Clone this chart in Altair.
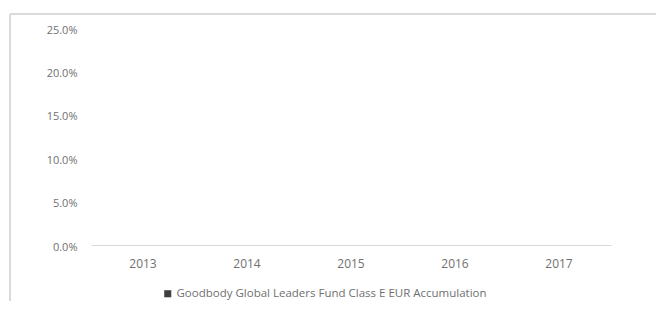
import altair as alt
import pandas as pd

years = ["2013", "2014", "2015", "2016", "2017"]
series_name = "Goodbody Global Leaders Fund Class E EUR Accumulation"
returns = [0.0, 0.0, 0.0, 0.0, 0.0]
y_ticks = [0.0, 0.05, 0.10, 0.15, 0.20, 0.25]

df = pd.DataFrame({"year": years, "ret": returns, "series": [series_name] * len(years)})

FONT = "Open Sans"
GRAY = "#707070"

bars = alt.Chart(df).mark_bar(size=60).encode(
    x=alt.X("year:N", sort=years, title=None,
            scale=alt.Scale(paddingInner=0.4, paddingOuter=0.2),
            axis=alt.Axis(labelAngle=0, ticks=False, domainColor="#d9d9d9",
                          labelPadding=13, labelFont=FONT, labelFontSize=12,
                          labelColor=GRAY)),
    y=alt.Y("ret:Q", title=None,
            scale=alt.Scale(domain=[0, 0.25]),
            axis=alt.Axis(values=y_ticks, format=".1%", grid=False, domain=False,
                          ticks=False, labelPadding=14, labelOffset=2, labelFont=FONT,
                          labelFontSize=11, labelColor=GRAY)),
    color=alt.Color("series:N", scale=alt.Scale(range=["#3f3f3f"]),
                    legend=alt.Legend(title=None, orient="none", legendX=71, legendY=260,
                                      symbolType="square", symbolSize=50, labelOffset=3,
                                      labelFont=FONT, labelFontSize=11.5,
                                      labelColor=GRAY, labelLimit=500)),
)

left_border = alt.Chart(df).mark_rule(color="#d9d9d9", strokeWidth=1).encode(
    x=alt.value(-81), y=alt.value(-14), y2=alt.value(300)
)
top_border = alt.Chart(df).mark_rule(color="#d9d9d9", strokeWidth=1).encode(
    x=alt.value(-81), x2=alt.value(570), y=alt.value(-14)
)

chart = alt.layer(left_border, top_border, bars).properties(
    width=520, height=217,
    autosize=alt.AutoSizeParams(type="none"),
    padding={"left": 83, "top": 20, "right": 45, "bottom": 56},
    background="white",
).configure_view(stroke=None)

chart.save("out.html", embed_options={"renderer": "svg", "actions": False})
